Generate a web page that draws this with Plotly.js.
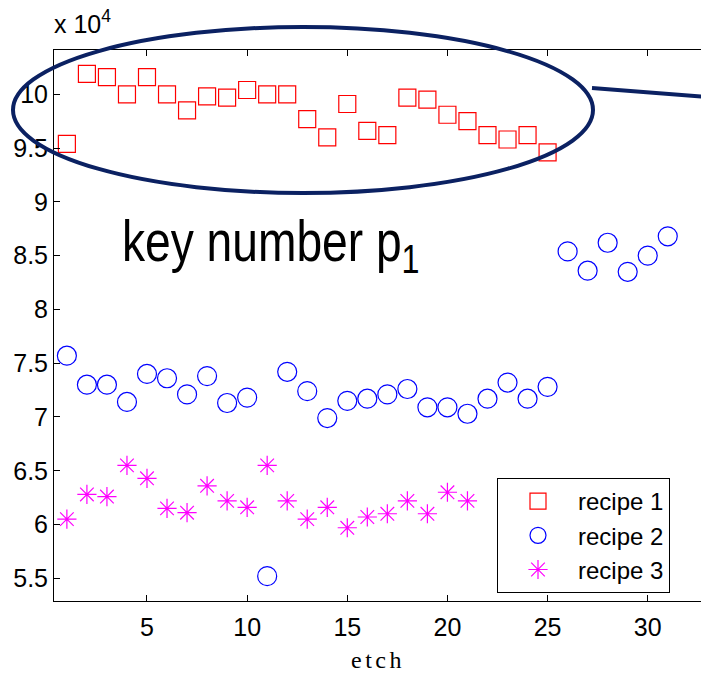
<!DOCTYPE html>
<html>
<head>
<meta charset="utf-8">
<script src="https://cdn.plot.ly/plotly-3.0.1.min.js"></script>
<style>
  html, body { margin: 0; padding: 0; background: #fff; overflow: hidden; width: 701px; height: 673px; }
  #chart { width: 702px; height: 673px; }
  .xtitle { letter-spacing: 3.5px; }
</style>
</head>
<body>
<div id="chart"></div>
<script>
// values are in units of 10^4 (axis shows "x 10^4")
const etch1 = [1,2,3,4,5,6,7,8,9,10,11,12,13,14,15,16,17,18,19,20,21,22,23,24,25];
const recipe1 = [9.54,10.19,10.16,10.00,10.16,10.00,9.85,9.98,9.97,10.04,10.00,10.00,9.77,9.60,9.91,9.66,9.62,9.97,9.95,9.81,9.75,9.62,9.58,9.62,9.46];

const etch2 = [1,2,3,4,5,6,7,8,9,10,11,12,13,14,15,16,17,18,19,20,21,22,23,24,25,26,27,28,29,30,31];
const recipe2 = [7.57,7.30,7.30,7.14,7.40,7.36,7.21,7.38,7.13,7.18,5.52,7.42,7.24,6.99,7.15,7.17,7.21,7.26,7.09,7.09,7.03,7.17,7.32,7.17,7.28,8.54,8.36,8.62,8.35,8.50,8.68];

const etch3 = [1,2,3,4,5,6,7,8,9,10,11,12,13,14,15,16,17,18,19,20,21];
const recipe3 = [6.05,6.28,6.26,6.55,6.43,6.15,6.11,6.36,6.22,6.16,6.55,6.22,6.05,6.16,5.97,6.07,6.10,6.22,6.10,6.30,6.22];

const seriesNames = ['recipe 1', 'recipe 2', 'recipe 3'];
const xTickVals = [5,10,15,20,25,30];
const yTickVals = [5.5,6,6.5,7,7.5,8,8.5,9,9.5,10];
const yTickText = ['5.5','6','6.5','7','7.5','8','8.5','9','9.5','10'];
const xTitle = 'etch';
const exponentLabel = 'x 10<sup>4</sup>';
const keyLabel = 'key number p<sub>1</sub>';

const sans = 'Liberation Sans, Arial, Helvetica, sans-serif';

const traces = [
  { x: etch1, y: recipe1, name: seriesNames[0], type: 'scatter', mode: 'markers',
    marker: { symbol: 'square-open', size: 17, color: '#ff0000', line: { width: 1.2, color: '#ff0000' } } },
  { x: etch2, y: recipe2, name: seriesNames[1], type: 'scatter', mode: 'markers',
    marker: { symbol: 'circle-open', size: 19, color: '#0000ff', line: { width: 1.2, color: '#0000ff' } } },
  { x: etch3, y: recipe3, name: seriesNames[2], type: 'scatter', mode: 'markers',
    marker: { symbol: 'asterisk-open', size: 16, color: '#ff00ff', line: { width: 1.2, color: '#ff00ff' } } }
];

const navy = '#0b2162';
const layout = {
  width: 702, height: 673,
  margin: { l: 54, r: 0, t: 50, b: 72, pad: 0 },
  paper_bgcolor: '#ffffff', plot_bgcolor: '#ffffff',
  font: { family: sans, size: 25, color: '#000' },
  showlegend: true,
  legend: {
    x: (497 - 54) / 648, y: (601 - 478) / 551, xanchor: 'left', yanchor: 'top',
    bgcolor: '#ffffff', bordercolor: '#000000', borderwidth: 1,
    font: { family: sans, size: 24, color: '#000' },
    itemwidth: 70, tracegroupgap: 0
  },
  xaxis: {
    range: [0.357, 32.71], tickmode: 'array', tickvals: xTickVals,
    ticks: 'inside', ticklen: 6, tickwidth: 1, tickcolor: '#000',
    showline: true, linecolor: '#000', linewidth: 1, mirror: 'ticks',
    showgrid: false, zeroline: false, ticklabelstandoff: 4,
    tickfont: { family: sans, size: 25, color: '#000' },
    title: { text: xTitle, font: { family: 'Liberation Serif, Times New Roman, serif', size: 24, color: '#000' }, standoff: 12 }
  },
  yaxis: {
    range: [5.289, 10.412], tickmode: 'array', tickvals: yTickVals, ticktext: yTickText,
    ticks: 'inside', ticklen: 6, tickwidth: 1, tickcolor: '#000',
    showline: true, linecolor: '#000', linewidth: 1, mirror: false,
    showgrid: false, zeroline: false,
    tickfont: { family: sans, size: 25, color: '#000' }
  },
  shapes: [
    { type: 'circle', xref: 'paper', yref: 'paper',
      x0: (13 - 54) / 648, x1: (593 - 54) / 648, y0: (601 - 193) / 551, y1: (601 - 27) / 551,
      line: { color: navy, width: 4 }, layer: 'above' },
    { type: 'line', xref: 'paper', yref: 'paper',
      x0: (592 - 54) / 648, y0: (601 - 88) / 551, x1: 1, y1: (601 - 96.5) / 551,
      line: { color: navy, width: 4 }, layer: 'above' }
  ],
  annotations: [
    { text: exponentLabel, xref: 'paper', yref: 'paper', x: -0.003, y: (601 - 40) / 551, xanchor: 'left', yanchor: 'bottom',
      showarrow: false, font: { family: sans, size: 25, color: '#000' } },
    { text: keyLabel, xref: 'paper', yref: 'paper', x: (271 - 54) / 648, y: (601 - 245) / 551, xanchor: 'center', yanchor: 'middle',
      showarrow: false, font: { family: sans, size: 57, color: '#000' } }
  ]
};

Plotly.newPlot('chart', traces, layout, { displayModeBar: false, staticPlot: true }).then(function (gd) {
  // narrow the large label horizontally (condensed look of the reference)
  gd.querySelectorAll('.annotation-text').forEach(function (t) {
    if (t.textContent.indexOf('key') === 0) {
      const bb = t.getBBox();
      const cx = bb.x + bb.width / 2;
      t.setAttribute('transform', 'translate(' + cx + ',0) scale(0.81,1) translate(' + (-cx) + ',0)');
    }
  });
});
</script>
</body>
</html>
